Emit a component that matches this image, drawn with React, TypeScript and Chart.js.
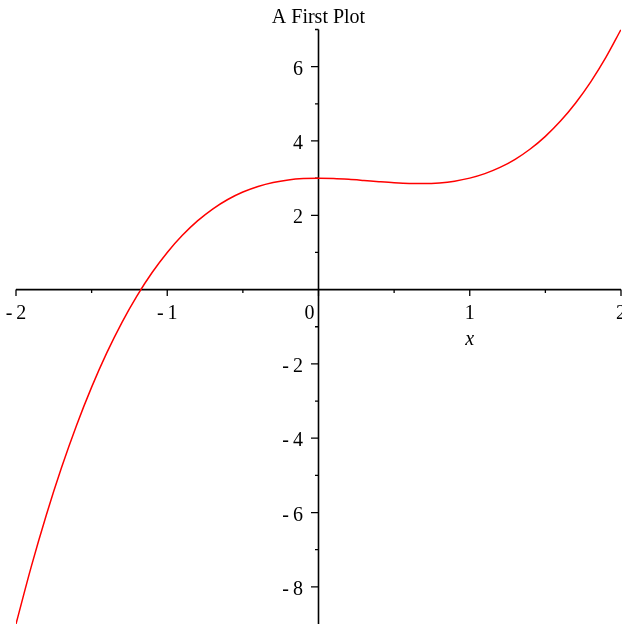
import { useEffect, useRef } from "react";
import { Chart, registerables } from "chart.js";

Chart.register(...registerables);

const TITLE = "A First Plot";
const X_AXIS_TITLE = "x";

// Sampled curve
const xValues = [
  -2.0, -1.9, -1.8, -1.7, -1.6, -1.5, -1.4, -1.3, -1.2, -1.1, -1.0,
  -0.9, -0.8, -0.7, -0.6, -0.5, -0.4, -0.3, -0.2, -0.1, 0.0,
  0.1, 0.2, 0.3, 0.4, 0.5, 0.6, 0.7, 0.8, 0.9, 1.0,
  1.1, 1.2, 1.3, 1.4, 1.5, 1.6, 1.7, 1.8, 1.9, 2.0,
];
const yValues = [
  -9.0, -7.469, -6.072, -4.803, -3.656, -2.625, -1.704, -0.887, -0.168, 0.459, 1.0,
  1.461, 1.848, 2.167, 2.424, 2.625, 2.776, 2.883, 2.952, 2.989, 3.0,
  2.991, 2.968, 2.937, 2.904, 2.875, 2.856, 2.853, 2.872, 2.919, 3.0,
  3.121, 3.288, 3.507, 3.784, 4.125, 4.536, 5.023, 5.592, 6.249, 7.0,
];

const X_MIN = -2;
const X_MAX = 2;
const Y_MIN = -9;
const Y_MAX = 7;

const xMajorTicks = [-2, -1, 0, 1, 2];
const xMajorLabels = ["-2", "-1", "0", "1", "2"];
const xMinorTicks = [-1.5, -0.5, 0.5, 1.5];

const yMajorTicks = [-8, -6, -4, -2, 2, 4, 6];
const yMajorLabels = ["-8", "-6", "-4", "-2", "2", "4", "6"];
const yMinorTicks = [-7, -5, -3, -1, 1, 3, 5, 7];

const FONT_FAMILY = '"Liberation Serif", "Times New Roman", serif';

const fmt = (s: string) => s.replace("-", "-\u2009");

const crossAxesPlugin = {
  id: "crossAxes",
  beforeDatasetsDraw(chart: any) {
    const { ctx } = chart;
    const xs = chart.scales.x;
    const ys = chart.scales.y;
    const x0 = xs.getPixelForValue(0);
    const y0 = ys.getPixelForValue(0);

    ctx.save();
    ctx.strokeStyle = "#000000";
    ctx.lineWidth = 1.6;
    ctx.beginPath();
    // axis lines
    ctx.moveTo(xs.getPixelForValue(X_MIN), y0);
    ctx.lineTo(xs.getPixelForValue(X_MAX), y0);
    ctx.moveTo(x0, ys.getPixelForValue(Y_MAX));
    ctx.lineTo(x0, ys.getPixelForValue(Y_MIN));
    ctx.stroke();

    ctx.lineWidth = 1.3;
    ctx.beginPath();
    // x ticks point downward
    xMajorTicks.forEach((v) => {
      const px = xs.getPixelForValue(v);
      ctx.moveTo(px, y0);
      ctx.lineTo(px, y0 + 6.5);
    });
    xMinorTicks.forEach((v) => {
      const px = xs.getPixelForValue(v);
      ctx.moveTo(px, y0);
      ctx.lineTo(px, y0 + 3.5);
    });
    // y ticks point left
    yMajorTicks.forEach((v) => {
      const py = ys.getPixelForValue(v);
      ctx.moveTo(x0, py);
      ctx.lineTo(x0 - 7.5, py);
    });
    yMinorTicks.forEach((v) => {
      const py = ys.getPixelForValue(v);
      ctx.moveTo(x0, py);
      ctx.lineTo(x0 - 3.5, py);
    });
    ctx.stroke();

    ctx.fillStyle = "#000000";
    ctx.font = `20px ${FONT_FAMILY}`;
    ctx.textBaseline = "alphabetic";

    // x tick labels
    xMajorTicks.forEach((v, i) => {
      const px = xs.getPixelForValue(v);
      if (v === 0) {
        ctx.textAlign = "right";
        ctx.fillText(fmt(xMajorLabels[i]), px - 4, y0 + 29.5);
      } else {
        ctx.textAlign = "center";
        ctx.fillText(fmt(xMajorLabels[i]), px, y0 + 29.5);
      }
    });

    // y tick labels
    ctx.textAlign = "right";
    yMajorTicks.forEach((v, i) => {
      const py = ys.getPixelForValue(v);
      ctx.fillText(fmt(yMajorLabels[i]), x0 - 15.5, py + 8);
    });

    // axis title
    ctx.font = `italic 20px ${FONT_FAMILY}`;
    ctx.textAlign = "center";
    ctx.fillText(X_AXIS_TITLE, xs.getPixelForValue(1), y0 + 55.5);

    // plot title
    ctx.font = `20px ${FONT_FAMILY}`;
    ctx.fillText(TITLE, x0, 23);

    ctx.restore();
  },
};

export default function App() {
  const canvasRef = useRef<HTMLCanvasElement | null>(null);

  useEffect(() => {
    const canvas = canvasRef.current;
    if (!canvas) return;
    const points = xValues.map((xv, i) => ({ x: xv, y: yValues[i] }));
    const chart = new Chart(canvas, {
      type: "line",
      data: {
        datasets: [
          {
            data: points,
            borderColor: "#ff0000",
            borderWidth: 1.5,
            pointRadius: 0,
            fill: false,
            cubicInterpolationMode: "monotone",
          },
        ],
      },
      options: {
        responsive: false,
        animation: false,
        devicePixelRatio: 1,
        layout: { padding: { left: 16, right: 1, top: 29.5, bottom: 0 } },
        plugins: {
          legend: { display: false },
          title: { display: false },
          tooltip: { enabled: false },
        },
        scales: {
          x: { type: "linear", min: X_MIN, max: X_MAX, display: false },
          y: { type: "linear", min: Y_MIN, max: Y_MAX, display: false },
        },
      },
      plugins: [crossAxesPlugin],
    });
    return () => chart.destroy();
  }, []);

  return (
    <div
      style={{
        position: "fixed",
        left: 0,
        top: 0,
        width: 622,
        height: 624,
        background: "#ffffff",
      }}
    >
      <canvas ref={canvasRef} width={622} height={624} />
    </div>
  );
}
